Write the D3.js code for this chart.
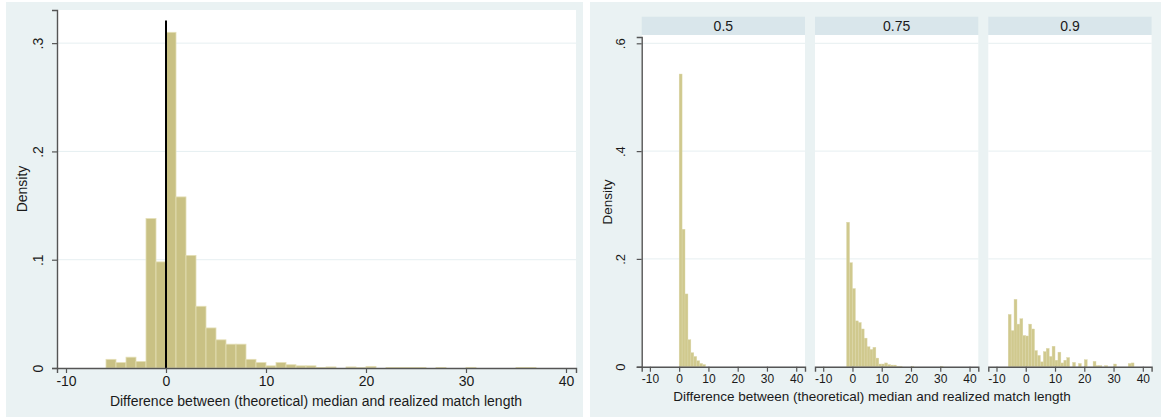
<!DOCTYPE html>
<html>
<head>
<meta charset="utf-8">
<script src="https://cdn.jsdelivr.net/npm/d3@7"></script>
<style>
  html, body { margin: 0; padding: 0; background: #ffffff; }
  svg { display: block; }
  text { font-family: "Liberation Sans", Arial, sans-serif; fill: #1a1a1a; }
</style>
</head>
<body>
<svg id="chart" width="1161" height="418"></svg>
<script>
// Histogram densities, one value per unit-width bin starting at the given lower edge
const pooledStart = -6;
const pooledDensity = [
  0.008, 0.005, 0.010, 0.006, 0.138, 0.098, 0.310, 0.158, 0.104, 0.057,
  0.037, 0.026, 0.022, 0.022, 0.008, 0.005, 0.002, 0.005, 0.003, 0.002,
  0.002, 0.0005, 0.001, 0, 0.001, 0.0003, 0.0015, 0, 0.0004, 0.0005,
  0.0005, 0.0005, 0, 0.0005, 0, 0, 0.0006, 0, 0, 0,
  0, 0.0005, 0.0005
];

const facetLabels = ["0.5", "0.75", "0.9"];
const facetStarts = [0, -2, -6];
const density50 = [0.543, 0.255, 0.135, 0.050, 0.026, 0.019, 0.011, 0.006, 0.004];
const density75 = [
  0.268, 0.193, 0.145, 0.085, 0.082, 0.070, 0.053, 0.037, 0.032, 0.036,
  0.016, 0.005, 0.005, 0.007, 0.004, 0.003, 0.003, 0.001, 0.001, 0,
  0, 0, 0.001, 0, 0, 0, 0, 0, 0, 0,
  0, 0, 0.001
];
const density90 = [
  0.097, 0.067, 0.125, 0.079, 0.089, 0.058, 0.057, 0.079, 0.070, 0.030,
  0.021, 0.009, 0.028, 0.034, 0.019, 0.038, 0.012, 0.027, 0.007, 0.012,
  0.017, 0, 0.008, 0, 0.006, 0, 0.013, 0, 0, 0.010,
  0.002, 0.002, 0, 0.002, 0, 0, 0.005, 0, 0, 0,
  0, 0.006, 0.007
];
const facetDensities = [density50, density75, density90];

const xTicks = [-10, 0, 10, 20, 30, 40];
const pooledYTicks = [0, 0.1, 0.2, 0.3];
const facetYTicks = [0, 0.2, 0.4, 0.6];
const xTitle = "Difference between (theoretical) median and realized match length";
const yTitle = "Density";

const regionFill = "#eaf2f3";
const stripFill = "#d9e6eb";
const gridColor = "#e6eff1";
const axisColor = "#555555";
const barFill = "#c9c184";
const barStroke = "#e4dfb6";

const svg = d3.select("#chart");
const yFmt = v => v === 0 ? "0" : d3.format(".1f")(v).replace(/^0/, "");
const xFmt = v => String(v); // plain hyphen-minus for negatives

function bins(start, values) {
  return values.map((d, i) => ({ x0: start + i, x1: start + i + 1, d }));
}

function drawGrid(g, x, y, yTicks) {
  const [xa, xb] = x.range();
  g.append("g").selectAll("line").data(yTicks.filter(t => t > 0)).join("line")
    .attr("x1", xa).attr("x2", xb)
    .attr("y1", d => y(d)).attr("y2", d => y(d))
    .attr("stroke", gridColor).attr("stroke-width", 1);
}

function styleAxis(sel, fontSize) {
  sel.select(".domain").attr("stroke", axisColor).attr("stroke-width", 1.4);
  sel.selectAll(".tick line").attr("stroke", axisColor).attr("stroke-width", 1.2);
  sel.selectAll(".tick text").attr("font-size", fontSize)
    .attr("font-family", "Liberation Sans, Arial, sans-serif").attr("fill", "#1a1a1a");
}

// ---------- left panel: pooled histogram ----------
svg.append("rect").attr("x", 6).attr("y", 2).attr("width", 577).attr("height", 415).attr("fill", regionFill);

const lx = d3.scaleLinear().domain([-10.9, 41]).range([57, 576]);
const ly = d3.scaleLinear().domain([0, 0.3306]).range([368, 10]);
const left = svg.append("g");
left.append("rect").attr("x", 57).attr("y", 10).attr("width", 519).attr("height", 358).attr("fill", "#ffffff");
drawGrid(left, lx, ly, pooledYTicks);

left.append("g").selectAll("rect").data(bins(pooledStart, pooledDensity).filter(b => b.d > 0)).join("rect")
  .attr("x", b => lx(b.x0)).attr("width", b => lx(b.x1) - lx(b.x0))
  .attr("y", b => ly(b.d)).attr("height", b => ly(0) - ly(b.d))
  .attr("fill", barFill).attr("stroke", barStroke).attr("stroke-width", 0.8);

// reference line at zero difference
left.append("line")
  .attr("x1", lx(0)).attr("x2", lx(0)).attr("y1", ly(0)).attr("y2", ly(0.321))
  .attr("stroke", "#000000").attr("stroke-width", 2);

const lxAxis = left.append("g").attr("transform", "translate(0,368)")
  .call(d3.axisBottom(lx).tickValues(xTicks).tickFormat(xFmt).tickSizeOuter(0).tickSize(5).tickPadding(3));
styleAxis(lxAxis, 14);

const lyAxis = left.append("g").attr("transform", "translate(57,0)")
  .call(d3.axisLeft(ly).tickValues(pooledYTicks).tickFormat(yFmt).tickSizeOuter(0).tickSize(5));
styleAxis(lyAxis, 14);
lyAxis.selectAll(".tick text")
  .attr("text-anchor", "middle").attr("dy", 0).attr("x", 0)
  .attr("transform", "translate(-14,0) rotate(-90)");

left.append("text").attr("x", 316).attr("y", 406).attr("text-anchor", "middle")
  .attr("font-size", 14).text(xTitle);
left.append("text").attr("transform", "translate(27,189) rotate(-90)").attr("text-anchor", "middle")
  .attr("font-size", 14).text(yTitle);

// ---------- right panel: histograms by quantile ----------
svg.append("rect").attr("x", 590).attr("y", 2).attr("width", 571).attr("height", 415).attr("fill", regionFill);

const facetX0 = [641.7, 815, 988.3];
const facetW = 163.3;
const fy = d3.scaleLinear().domain([0, 0.6117]).range([366.7, 37]);

facetLabels.forEach((label, i) => {
  const x0 = facetX0[i];
  const fx = d3.scaleLinear().domain([-12.8, 43.0]).range([x0, x0 + facetW]);
  const g = svg.append("g");
  g.append("rect").attr("x", x0).attr("y", 16.7).attr("width", facetW).attr("height", 18.3).attr("fill", stripFill);
  g.append("text").attr("x", x0 + facetW / 2).attr("y", 30.5).attr("text-anchor", "middle")
    .attr("font-size", 14).text(label);
  g.append("rect").attr("x", x0).attr("y", 35).attr("width", facetW).attr("height", 366.7 - 35).attr("fill", "#ffffff");
  drawGrid(g, fx, fy, facetYTicks);

  g.append("g").selectAll("rect").data(bins(facetStarts[i], facetDensities[i]).filter(b => b.d > 0)).join("rect")
    .attr("x", b => fx(b.x0)).attr("width", b => fx(b.x1) - fx(b.x0))
    .attr("y", b => fy(b.d)).attr("height", b => fy(0) - fy(b.d))
    .attr("fill", "#d0c98e").attr("stroke", "#ddd8ab").attr("stroke-width", 0.4);

  const xa = g.append("g").attr("transform", "translate(0,366.7)")
    .call(d3.axisBottom(fx).tickValues(xTicks).tickFormat(xFmt).tickSizeOuter(0).tickSize(5).tickPadding(3));
  styleAxis(xa, 12);

  if (i === 0) {
    const ya = g.append("g").attr("transform", `translate(${x0},0)`)
      .call(d3.axisLeft(fy).tickValues(facetYTicks).tickFormat(yFmt).tickSizeOuter(0).tickSize(5));
    styleAxis(ya, 13);
    ya.selectAll(".tick text")
      .attr("text-anchor", "middle").attr("dy", 0).attr("x", 0)
      .attr("transform", "translate(-16.5,0) rotate(-90)");
  }
});

svg.append("text").attr("x", 872).attr("y", 401).attr("text-anchor", "middle")
  .attr("font-size", 13.5).text(xTitle);
svg.append("text").attr("transform", "translate(612,202) rotate(-90)").attr("text-anchor", "middle")
  .attr("font-size", 13.5).text(yTitle);
</script>
</body>
</html>
